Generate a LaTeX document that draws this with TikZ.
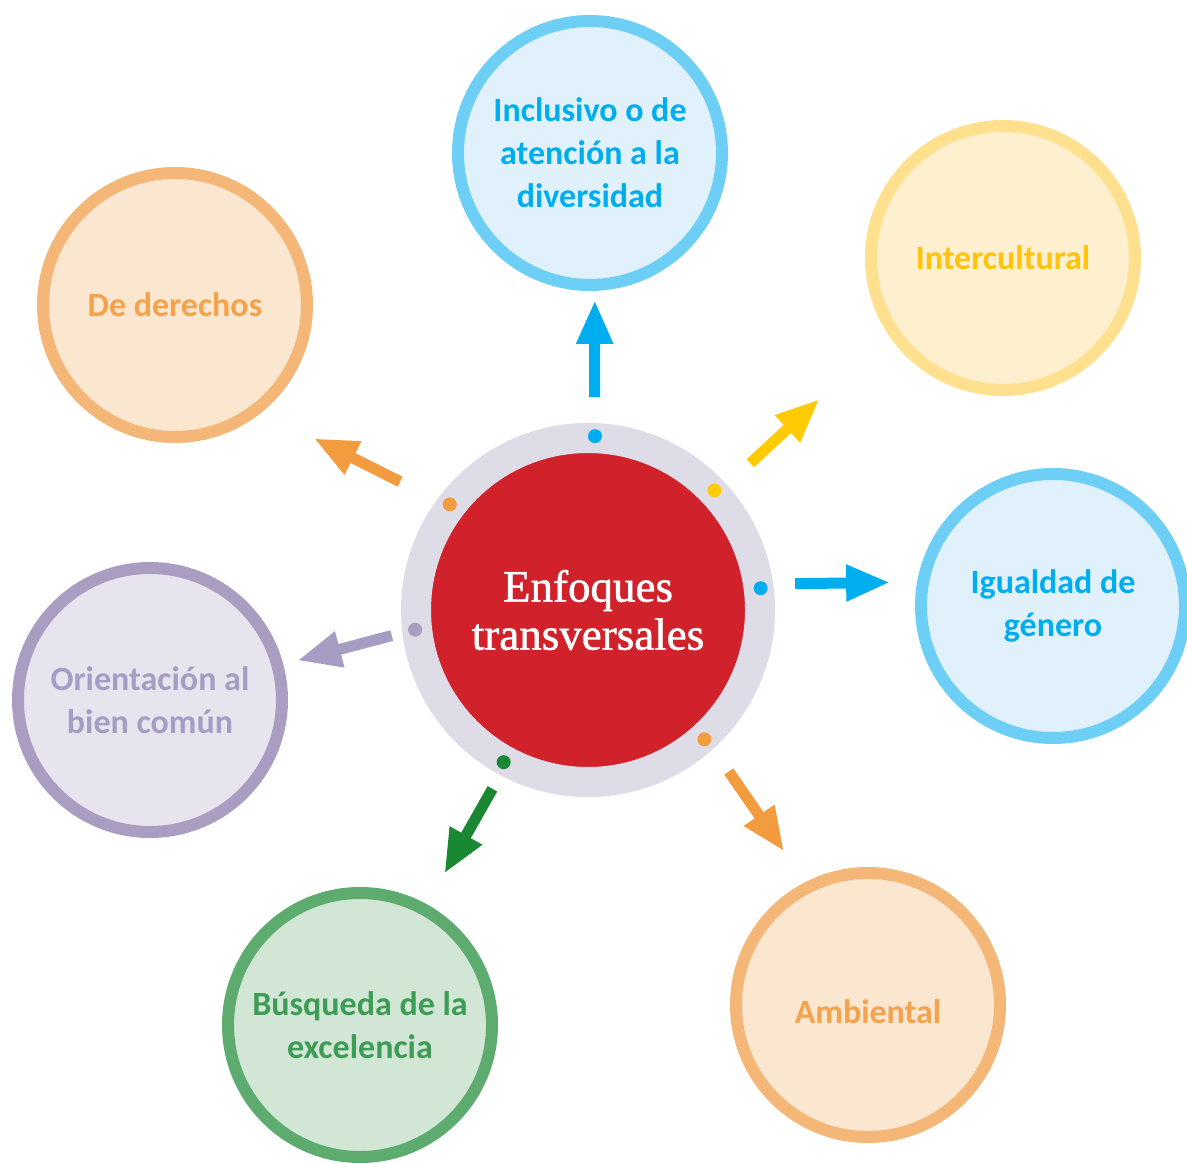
\documentclass[tikz,border=0pt]{standalone}
\usepackage{fontspec}
\setmainfont{Carlito}
\newfontfamily\serifcentro[FakeBold=1.2]{Liberation Serif}
\usepackage{tikz}
\usetikzlibrary{arrows.meta}

\definecolor{azul}{HTML}{00AEEF}
\definecolor{azulborde}{HTML}{6DCFF6}
\definecolor{azulfondo}{HTML}{E0F1FB}
\definecolor{amarillo}{HTML}{FFCB05}
\definecolor{amarillotexto}{HTML}{FFC20E}
\definecolor{amarilloborde}{HTML}{FFE08F}
\definecolor{amarillofondo}{HTML}{FEEFCF}
\definecolor{naranja}{HTML}{F29C3F}
\definecolor{naranjatexto}{HTML}{F4A24C}
\definecolor{naranjaborde}{HTML}{F5B777}
\definecolor{naranjafondo}{HTML}{FBE6D0}
\definecolor{morado}{HTML}{A79CC4}
\definecolor{moradoborde}{HTML}{A99DC2}
\definecolor{moradofondo}{HTML}{E7E4EE}
\definecolor{verde}{HTML}{1A8733}
\definecolor{verdetexto}{HTML}{3D9C55}
\definecolor{verdeborde}{HTML}{5DAB6F}
\definecolor{verdefondo}{HTML}{D2E6D5}
\definecolor{gris}{HTML}{DEDCE7}
\definecolor{rojo}{HTML}{D1222B}

\tikzset{
  enfoque/.style={circle, line width=6pt, minimum size=132pt, inner sep=0pt,
    align=center, font=\bfseries\fontsize{17}{21.5}\selectfont},
  flecha/.style={line width=5.5pt, -{Triangle[length=22pt,width=17pt]}}
}

\begin{document}
\begin{tikzpicture}[x=0.5pt,y=0.5pt]
%\draw[step=100,gray,very thin] (0,0) grid (1187,1163);
\useasboundingbox (0,0) rectangle (1187,1163);

\node[circle, draw=gris, fill=rojo, line width=15pt, minimum size=172pt, inner sep=0pt,
  align=center, text=white, font=\serifcentro\fontsize{22.5}{24}\selectfont] (centro) at (588,553) {Enfoques\\transversales};

\fill[azul] (centro) ++(87.7:174) circle (3.5pt);
\fill[amarillo] (centro) ++(43.4:174) circle (3.5pt);
\fill[azul] (centro) ++(7.2:174) circle (3.5pt);
\fill[naranja] (centro) ++(-48:174) circle (3.5pt);
\fill[verde] (centro) ++(-119:174) circle (3.5pt);
\fill[moradoborde] (centro) ++(186.5:174) circle (3.5pt);
\fill[naranja] (centro) ++(142.6:174) circle (3.5pt);

\node[enfoque, draw=azulborde, fill=azulfondo, text=azul] (inclusivo) at (590,1010) {Inclusivo o de\\atención a la\\diversidad};

\node[enfoque, draw=amarilloborde, fill=amarillofondo, text=amarillotexto] (intercultural) at (1003,905) {Intercultural};

\node[enfoque, draw=azulborde, fill=azulfondo, text=azul] (igualdad) at (1053,557) {Igualdad de\\género};

\node[enfoque, draw=naranjaborde, fill=naranjafondo, text=naranjatexto, text height=19pt] (ambiental) at (868,158) {Ambiental};

\node[enfoque, draw=verdeborde, fill=verdefondo, text=verdetexto] (busqueda) at (360,138) {Búsqueda de la\\excelencia};

\node[enfoque, draw=moradoborde, fill=moradofondo, text=morado] (orientacion) at (150,463) {Orientación al\\bien común};

\node[enfoque, draw=naranjaborde, fill=naranjafondo, text=naranjatexto] (derechos) at (175,858) {De derechos};

\draw[flecha, azul, shorten <=13pt, shorten >=4.5pt] (centro.88.5) -- (inclusivo.-88.75);

\draw[flecha, amarillo, shorten <=15.9pt, shorten >=47pt] (centro.42.27) -- (intercultural.214.97);

\draw[flecha, azul, shorten <=11pt, shorten >=13.5pt] (centro.8.3) -- (igualdad.170.41);

\draw[flecha, naranja, shorten <=13.7pt, shorten >=18.6pt] (centro.-48.8) -- (ambiental.117.35);

\draw[flecha, verde, shorten <=7.9pt, shorten >=17.6pt] (centro.-118.5) -- (busqueda.61.56);

\draw[flecha, morado, shorten <=5.5pt, shorten >=7.2pt] (centro.187.5) -- (orientacion.15.4);

\draw[flecha, naranja, shorten <=20.5pt, shorten >=29pt] (centro.144.6) -- (derechos.-51.2);

\end{tikzpicture}
\end{document}
